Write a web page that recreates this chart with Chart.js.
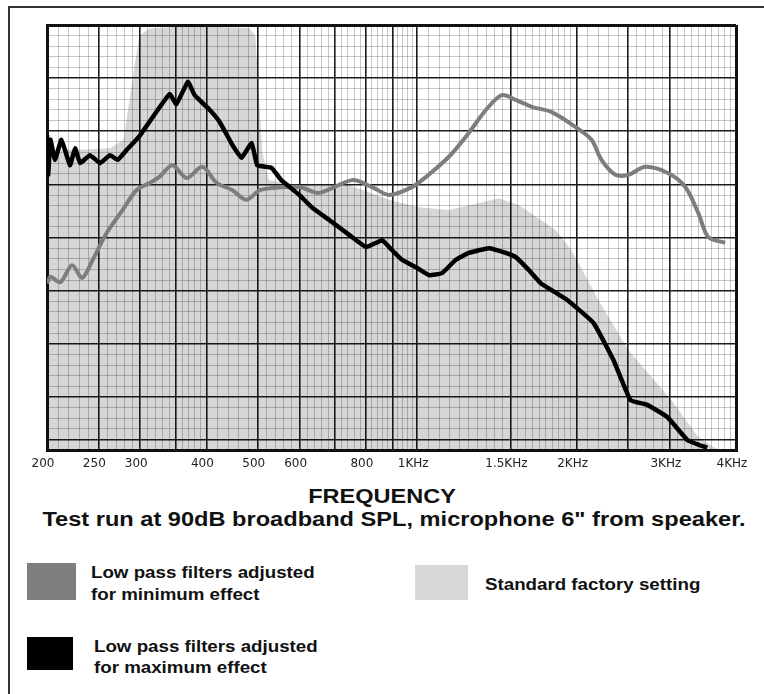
<!DOCTYPE html>
<html lang="en">
<head>
  <meta charset="UTF-8">
  <title>Frequency response - low pass filter settings</title>
  <script src="https://cdn.jsdelivr.net/npm/chart.js"></script>
  <style>
    * { margin: 0; padding: 0; box-sizing: border-box; }

    body {
      width: 764px;
      height: 694px;
      background: #fff;
      color: #111;
      font-family: "Liberation Sans", Arial, sans-serif;
      position: relative;
      overflow: hidden;
    }

    /* scanned page frame: top and left edges only */
    .frame {
      position: absolute;
      left: 8px; top: 6px; right: -6px; bottom: -6px;
      border-top: 2px solid #333;
      border-left: 2px solid #333;
    }

    .chart-box {
      position: absolute;
      left: 0; top: 0;
      width: 764px; height: 480px;
    }

    .txt {
      position: absolute;
      white-space: nowrap;
      font-weight: bold;
    }

    #axisTitle {
      left: 0; width: 764px; top: 484px;
      font-size: 21px; line-height: 24px;
      text-align: center;
      transform: scaleX(1.12);
    }

    #note {
      left: 12px; width: 764px; top: 507px;
      font-size: 20px; line-height: 24px;
      text-align: center;
      transform: scaleX(1.18);
    }

    .swatch { position: absolute; }
    .legend-text {
      font-size: 16px;
      line-height: 22px;
      transform-origin: 0 50%;
      transform: scaleX(1.17);
    }
  </style>
</head>
<body>
  <div class="frame"></div>

  <div class="chart-box">
    <canvas id="freqChart"></canvas>
  </div>

  <div class="txt" id="axisTitle">FREQUENCY</div>
  <div class="txt" id="note">Test run at 90dB broadband SPL, microphone 6" from speaker.</div>

  <div class="swatch" style="left:27px; top:563px; width:49px; height:37px; background:#7e7e7e;"></div>
  <div class="txt legend-text" style="left:91px; top:562px;">Low pass filters adjusted<br>for minimum effect</div>

  <div class="swatch" style="left:415px; top:565px; width:53px; height:35px; background:#d8d8d8;"></div>
  <div class="txt legend-text" style="left:485px; top:574px;">Standard factory setting</div>

  <div class="swatch" style="left:27px; top:637px; width:46px; height:33px; background:#000;"></div>
  <div class="txt legend-text" style="left:94px; top:636px; line-height:21px;">Low pass filters adjusted<br>for maximum effect</div>

  <script>
    // x axis labels
    const tickValues = [200, 250, 300, 400, 500, 600, 800, 1000, 1500, 2000, 3000, 4000];
    const tickLabels = ['200', '250', '300', '400', '500', '600', '800', '1KHz', '1.5KHz', '2KHz', '3KHz', '4KHz'];

    // heavy lines of the graph paper
    const majorFreq = [200, 250, 300, 350, 400, 500, 600, 700, 800, 900, 1000, 1500, 2000, 2500, 3000, 4000];
    const majorLevel = [0, 2, 10, 20, 30, 40, 50, 60, 70, 80];

    // low pass filters adjusted for maximum effect (black)
    const maxFreq = [200, 201, 203, 207, 213, 221, 226, 231, 241, 252, 263, 272, 283, 299, 319, 341, 351, 369, 380, 406,
      424, 448, 466, 487, 499, 531, 554, 599, 634, 691, 744, 801, 859, 885, 936, 995, 1053, 1114, 1183, 1252,
      1366, 1470, 1535, 1624, 1711, 1923, 2154, 2349, 2528, 2720, 2968, 3237, 3530];
    const maxLevel = [59.3, 51.8, 58.4, 54.6, 58.4, 53.6, 56.8, 54.0, 55.5, 54.0, 55.5, 54.6, 56.5, 59.1, 63.1, 67.0, 65.1, 69.3, 66.8, 64.0,
      61.7, 57.4, 55.0, 57.8, 53.6, 53.1, 50.8, 48.0, 45.6, 42.9, 40.5, 38.2, 39.5, 38.2, 35.8, 34.4, 32.9, 33.3, 35.8, 37.1,
      38.0, 37.1, 36.3, 33.9, 31.4, 28.2, 23.9, 16.9, 9.4, 8.5, 6.2, 1.9, 0.4];

    // low pass filters adjusted for minimum effect (grey)
    const minFreq = [200, 203, 212, 223, 233, 244, 259, 278, 295, 313, 326, 345, 367, 393, 418, 448, 476, 504, 533, 599,
      653, 754, 822, 885, 978, 1039, 1148, 1252, 1348, 1445, 1535, 1646, 1795, 1991, 2134, 2229, 2368, 2506, 2697, 2981,
      3209, 3396, 3545, 3816];
    const minLevel = [31.4, 32.6, 31.6, 34.8, 32.4, 35.8, 40.8, 45.2, 48.9, 50.3, 51.4, 53.6, 51.2, 53.3, 50.3, 48.9, 47.1, 48.9, 49.3, 49.5,
      48.4, 50.8, 49.5, 48.0, 49.5, 51.4, 55.2, 59.7, 64.0, 66.8, 65.9, 64.6, 63.6, 60.8, 58.4, 54.6, 51.8, 51.8, 53.3, 52.1,
      49.5, 44.6, 40.1, 39.0];

    // standard factory setting (shaded area)
    const stdFreq = [200, 231, 263, 279, 290, 299, 313, 388, 482, 495, 510, 525, 599, 744, 885, 1008, 1148, 1308, 1426, 1555,
      1826, 1957, 2200, 2506, 3020, 3396, 3703, 4000];
    const stdLevel = [56.5, 56.5, 56.8, 58.4, 69.6, 78.1, 79.4, 79.8, 79.4, 78.0, 56.0, 50.8, 49.9, 49.9, 47.1, 45.7, 45.2, 46.5, 47.4, 46.1,
      41.4, 37.6, 28.2, 18.8, 9.4, 2.4, 0, 0];

    // fine graph-paper divisions
    const minorFreq = [];
    [[200, 400, 10], [400, 1000, 20], [1000, 2000, 50], [2000, 4000, 100]].forEach(([a, b, step]) => {
      for (let f = a + step; f < b; f += step) minorFreq.push(f);
    });
    const gridFreq = [...new Set([...majorFreq, ...minorFreq])].sort((a, b) => a - b);
    const gridLevel = [];
    for (let v = 0; v <= 80; v += 2) gridLevel.push(v);

    const toPoints = (xs, ys) => xs.map((x, i) => ({ x: x, y: ys[i] }));

    function gridColor(major, edges) {
      return ctx => {
        const v = ctx.tick ? ctx.tick.value : null;
        if (edges.includes(v)) return '#111';
        return major.includes(v) ? '#1c1c1c' : 'rgba(0,0,0,0.22)';
      };
    }
    function gridWidth(major, edges) {
      return ctx => {
        const v = ctx.tick ? ctx.tick.value : null;
        if (edges.includes(v)) return 3;
        return major.includes(v) ? 1.6 : 1;
      };
    }

    new Chart(document.getElementById('freqChart'), {
      type: 'line',
      data: {
        datasets: [
          {
            label: 'Low pass filters adjusted for maximum effect',
            data: toPoints(maxFreq, maxLevel),
            borderColor: '#000',
            borderWidth: 4.5,
            pointRadius: 0,
            tension: 0.1,
            borderJoinStyle: 'round',
            fill: false
          },
          {
            label: 'Low pass filters adjusted for minimum effect',
            data: toPoints(minFreq, minLevel),
            borderColor: '#7d7d7d',
            borderWidth: 4,
            pointRadius: 0,
            tension: 0.3,
            borderJoinStyle: 'round',
            fill: false
          },
          {
            label: 'Standard factory setting',
            data: toPoints(stdFreq, stdLevel),
            borderWidth: 0,
            borderColor: 'rgba(0,0,0,0)',
            backgroundColor: 'rgba(0,0,0,0.16)',
            pointRadius: 0,
            tension: 0,
            fill: 'start'
          }
        ]
      },
      options: {
        responsive: true,
        maintainAspectRatio: false,
        animation: false,
        layout: { padding: { left: 47, right: 28, top: 25, bottom: 0 } },
        plugins: {
          legend: { display: false },
          tooltip: { enabled: false }
        },
        scales: {
          x: {
            type: 'logarithmic',
            min: 200,
            max: 4000,
            afterBuildTicks: s => { s.ticks = gridFreq.map(v => ({ value: v })); },
            afterFit: s => { s.height = 30; },
            ticks: {
              autoSkip: false,
              maxRotation: 0,
              padding: 7,
              labelOffset: -4,
              color: '#222',
              font: { family: 'DejaVu Sans', size: 12 },
              callback: v => {
                const i = tickValues.indexOf(v);
                return i >= 0 ? tickLabels[i] : '';
              }
            },
            grid: {
              drawTicks: false,
              color: gridColor(majorFreq, [200, 4000]),
              lineWidth: gridWidth(majorFreq, [200, 4000])
            },
            border: { display: true, color: '#111', width: 3 }
          },
          y: {
            min: 0,
            max: 80,
            afterBuildTicks: s => { s.ticks = gridLevel.map(v => ({ value: v })); },
            afterFit: s => { s.width = 0; },
            ticks: { display: false },
            grid: {
              drawTicks: false,
              color: gridColor(majorLevel, [0, 80]),
              lineWidth: gridWidth(majorLevel, [0, 80])
            },
            border: { display: true, color: '#111', width: 3 }
          }
        }
      }
    });
  </script>
</body>
</html>
